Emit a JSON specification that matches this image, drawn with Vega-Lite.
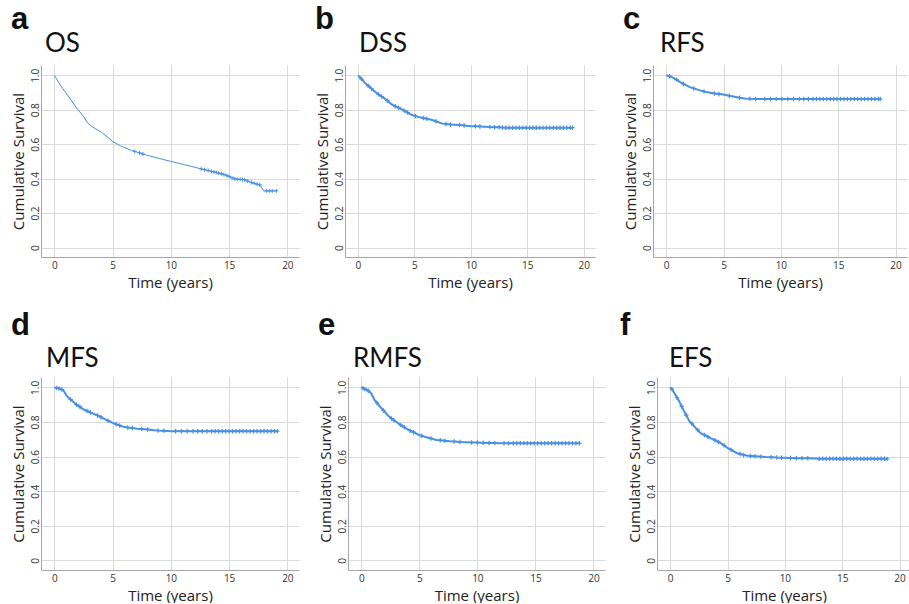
{
"$schema":"https://vega.github.io/schema/vega-lite/v6.json",
"padding":{"left":11,"top":4,"right":0,"bottom":0},
"background":"white",
"datasets":{"km":[
{"p":"OS","t":0,"s":1,"c":0},{"p":"OS","t":0.49,"s":0.945,"c":0},{"p":"OS","t":1.2,"s":0.878,"c":0},{"p":"OS","t":1.91,"s":0.81,"c":0},{"p":"OS","t":2.49,"s":0.762,"c":0},{"p":"OS","t":2.86,"s":0.723,"c":0},{"p":"OS","t":3.2,"s":0.703,"c":0},{"p":"OS","t":4.06,"s":0.669,"c":0},{"p":"OS","t":5.0,"s":0.616,"c":0},{"p":"OS","t":5.77,"s":0.587,"c":0},{"p":"OS","t":6.63,"s":0.564,"c":0},{"p":"OS","t":6.9,"s":0.558,"c":1},{"p":"OS","t":7.3,"s":0.55,"c":1},{"p":"OS","t":7.6,"s":0.543,"c":1},{"p":"OS","t":7.77,"s":0.539,"c":0},{"p":"OS","t":8.91,"s":0.519,"c":0},{"p":"OS","t":10,"s":0.5,"c":0},{"p":"OS","t":11.2,"s":0.481,"c":0},{"p":"OS","t":12.34,"s":0.461,"c":0},{"p":"OS","t":12.6,"s":0.457,"c":1},{"p":"OS","t":12.9,"s":0.452,"c":1},{"p":"OS","t":13.2,"s":0.447,"c":1},{"p":"OS","t":13.49,"s":0.442,"c":1},{"p":"OS","t":13.7,"s":0.439,"c":1},{"p":"OS","t":13.9,"s":0.436,"c":1},{"p":"OS","t":14.1,"s":0.432,"c":1},{"p":"OS","t":14.34,"s":0.428,"c":1},{"p":"OS","t":14.55,"s":0.424,"c":1},{"p":"OS","t":14.8,"s":0.418,"c":1},{"p":"OS","t":15,"s":0.413,"c":1},{"p":"OS","t":15.25,"s":0.405,"c":1},{"p":"OS","t":15.49,"s":0.399,"c":1},{"p":"OS","t":15.7,"s":0.397,"c":1},{"p":"OS","t":15.95,"s":0.396,"c":1},{"p":"OS","t":16.15,"s":0.395,"c":1},{"p":"OS","t":16.34,"s":0.393,"c":1},{"p":"OS","t":16.6,"s":0.386,"c":1},{"p":"OS","t":16.91,"s":0.378,"c":1},{"p":"OS","t":17.15,"s":0.373,"c":1},{"p":"OS","t":17.4,"s":0.368,"c":1},{"p":"OS","t":17.63,"s":0.364,"c":1},{"p":"OS","t":17.97,"s":0.329,"c":0},{"p":"OS","t":18.2,"s":0.329,"c":1},{"p":"OS","t":18.45,"s":0.329,"c":1},{"p":"OS","t":18.7,"s":0.329,"c":1},{"p":"OS","t":19.06,"s":0.329,"c":1},

{"p":"DSS","t":0,"s":1,"c":0},{"p":"DSS","t":0.3,"s":0.98,"c":1},{"p":"DSS","t":0.57,"s":0.959,"c":0},{"p":"DSS","t":0.9,"s":0.94,"c":1},{"p":"DSS","t":1.2,"s":0.922,"c":1},{"p":"DSS","t":1.46,"s":0.907,"c":0},{"p":"DSS","t":1.8,"s":0.89,"c":1},{"p":"DSS","t":2.1,"s":0.877,"c":1},{"p":"DSS","t":2.35,"s":0.866,"c":0},{"p":"DSS","t":2.6,"s":0.853,"c":1},{"p":"DSS","t":2.95,"s":0.833,"c":0},{"p":"DSS","t":3.3,"s":0.82,"c":1},{"p":"DSS","t":3.6,"s":0.812,"c":1},{"p":"DSS","t":3.84,"s":0.804,"c":0},{"p":"DSS","t":4.1,"s":0.795,"c":1},{"p":"DSS","t":4.4,"s":0.784,"c":1},{"p":"DSS","t":4.73,"s":0.771,"c":0},{"p":"DSS","t":5.1,"s":0.763,"c":1},{"p":"DSS","t":5.48,"s":0.756,"c":0},{"p":"DSS","t":5.8,"s":0.752,"c":1},{"p":"DSS","t":6.1,"s":0.748,"c":1},{"p":"DSS","t":6.5,"s":0.742,"c":0},{"p":"DSS","t":6.9,"s":0.733,"c":1},{"p":"DSS","t":7.4,"s":0.721,"c":0},{"p":"DSS","t":7.8,"s":0.718,"c":1},{"p":"DSS","t":8.2,"s":0.715,"c":1},{"p":"DSS","t":8.6,"s":0.713,"c":0},{"p":"DSS","t":9.0,"s":0.711,"c":1},{"p":"DSS","t":9.4,"s":0.709,"c":1},{"p":"DSS","t":10,"s":0.705,"c":0},{"p":"DSS","t":10.4,"s":0.704,"c":1},{"p":"DSS","t":10.8,"s":0.703,"c":1},{"p":"DSS","t":11.3,"s":0.702,"c":0},{"p":"DSS","t":11.7,"s":0.7,"c":1},{"p":"DSS","t":12.1,"s":0.699,"c":1},{"p":"DSS","t":12.5,"s":0.698,"c":1},{"p":"DSS","t":12.8,"s":0.697,"c":1},{"p":"DSS","t":13.1,"s":0.696,"c":1},{"p":"DSS","t":13.4,"s":0.696,"c":1},{"p":"DSS","t":13.7,"s":0.696,"c":1},{"p":"DSS","t":14.0,"s":0.696,"c":1},{"p":"DSS","t":14.3,"s":0.696,"c":1},{"p":"DSS","t":14.6,"s":0.696,"c":1},{"p":"DSS","t":14.9,"s":0.696,"c":1},{"p":"DSS","t":15.2,"s":0.696,"c":1},{"p":"DSS","t":15.5,"s":0.696,"c":1},{"p":"DSS","t":15.8,"s":0.696,"c":1},{"p":"DSS","t":16.1,"s":0.696,"c":1},{"p":"DSS","t":16.4,"s":0.696,"c":1},{"p":"DSS","t":16.7,"s":0.696,"c":1},{"p":"DSS","t":17.0,"s":0.696,"c":1},{"p":"DSS","t":17.3,"s":0.696,"c":1},{"p":"DSS","t":17.6,"s":0.696,"c":1},{"p":"DSS","t":17.9,"s":0.696,"c":1},{"p":"DSS","t":18.2,"s":0.696,"c":1},{"p":"DSS","t":18.5,"s":0.696,"c":1},{"p":"DSS","t":18.8,"s":0.696,"c":1},{"p":"DSS","t":19.0,"s":0.696,"c":1},

{"p":"RFS","t":0,"s":1,"c":0},{"p":"RFS","t":0.3,"s":0.995,"c":1},{"p":"RFS","t":0.62,"s":0.985,"c":0},{"p":"RFS","t":0.9,"s":0.975,"c":1},{"p":"RFS","t":1.18,"s":0.962,"c":0},{"p":"RFS","t":1.5,"s":0.95,"c":1},{"p":"RFS","t":2.03,"s":0.933,"c":0},{"p":"RFS","t":2.4,"s":0.924,"c":1},{"p":"RFS","t":2.88,"s":0.914,"c":0},{"p":"RFS","t":3.3,"s":0.906,"c":1},{"p":"RFS","t":3.72,"s":0.9,"c":0},{"p":"RFS","t":4.2,"s":0.895,"c":1},{"p":"RFS","t":4.6,"s":0.892,"c":1},{"p":"RFS","t":4.99,"s":0.889,"c":0},{"p":"RFS","t":5.5,"s":0.882,"c":1},{"p":"RFS","t":5.98,"s":0.876,"c":0},{"p":"RFS","t":6.4,"s":0.87,"c":1},{"p":"RFS","t":6.83,"s":0.866,"c":0},{"p":"RFS","t":7.3,"s":0.864,"c":1},{"p":"RFS","t":7.8,"s":0.863,"c":1},{"p":"RFS","t":8.24,"s":0.862,"c":0},{"p":"RFS","t":8.6,"s":0.862,"c":1},{"p":"RFS","t":9.1,"s":0.862,"c":1},{"p":"RFS","t":9.6,"s":0.862,"c":1},{"p":"RFS","t":10.1,"s":0.862,"c":1},{"p":"RFS","t":10.6,"s":0.862,"c":1},{"p":"RFS","t":11.1,"s":0.862,"c":1},{"p":"RFS","t":11.6,"s":0.862,"c":1},{"p":"RFS","t":12.0,"s":0.862,"c":1},{"p":"RFS","t":12.4,"s":0.862,"c":1},{"p":"RFS","t":12.8,"s":0.862,"c":1},{"p":"RFS","t":13.1,"s":0.862,"c":1},{"p":"RFS","t":13.4,"s":0.862,"c":1},{"p":"RFS","t":13.7,"s":0.862,"c":1},{"p":"RFS","t":14.0,"s":0.862,"c":1},{"p":"RFS","t":14.3,"s":0.862,"c":1},{"p":"RFS","t":14.6,"s":0.862,"c":1},{"p":"RFS","t":14.9,"s":0.862,"c":1},{"p":"RFS","t":15.2,"s":0.862,"c":1},{"p":"RFS","t":15.5,"s":0.862,"c":1},{"p":"RFS","t":15.8,"s":0.862,"c":1},{"p":"RFS","t":16.1,"s":0.862,"c":1},{"p":"RFS","t":16.4,"s":0.862,"c":1},{"p":"RFS","t":16.7,"s":0.862,"c":1},{"p":"RFS","t":17.0,"s":0.862,"c":1},{"p":"RFS","t":17.3,"s":0.862,"c":1},{"p":"RFS","t":17.6,"s":0.862,"c":1},{"p":"RFS","t":17.9,"s":0.862,"c":1},{"p":"RFS","t":18.2,"s":0.862,"c":1},{"p":"RFS","t":18.5,"s":0.862,"c":1},{"p":"RFS","t":18.67,"s":0.862,"c":1},

{"p":"MFS","t":0,"s":1,"c":0},{"p":"MFS","t":0.2,"s":0.997,"c":1},{"p":"MFS","t":0.4,"s":0.994,"c":1},{"p":"MFS","t":0.52,"s":0.992,"c":0},{"p":"MFS","t":0.65,"s":0.987,"c":1},{"p":"MFS","t":0.8,"s":0.98,"c":0},{"p":"MFS","t":1.09,"s":0.948,"c":0},{"p":"MFS","t":1.4,"s":0.93,"c":1},{"p":"MFS","t":1.66,"s":0.914,"c":0},{"p":"MFS","t":1.9,"s":0.9,"c":1},{"p":"MFS","t":2.2,"s":0.887,"c":1},{"p":"MFS","t":2.52,"s":0.872,"c":0},{"p":"MFS","t":2.8,"s":0.864,"c":1},{"p":"MFS","t":3.1,"s":0.855,"c":1},{"p":"MFS","t":3.38,"s":0.847,"c":0},{"p":"MFS","t":3.7,"s":0.838,"c":1},{"p":"MFS","t":4.0,"s":0.828,"c":1},{"p":"MFS","t":4.24,"s":0.82,"c":0},{"p":"MFS","t":4.6,"s":0.808,"c":1},{"p":"MFS","t":5.01,"s":0.795,"c":0},{"p":"MFS","t":5.3,"s":0.787,"c":1},{"p":"MFS","t":5.6,"s":0.78,"c":1},{"p":"MFS","t":5.96,"s":0.772,"c":0},{"p":"MFS","t":6.3,"s":0.768,"c":1},{"p":"MFS","t":6.7,"s":0.765,"c":1},{"p":"MFS","t":7.1,"s":0.761,"c":0},{"p":"MFS","t":7.5,"s":0.759,"c":1},{"p":"MFS","t":8.0,"s":0.757,"c":1},{"p":"MFS","t":8.54,"s":0.753,"c":0},{"p":"MFS","t":8.9,"s":0.751,"c":1},{"p":"MFS","t":9.4,"s":0.749,"c":1},{"p":"MFS","t":9.97,"s":0.747,"c":0},{"p":"MFS","t":10.4,"s":0.747,"c":1},{"p":"MFS","t":10.9,"s":0.747,"c":1},{"p":"MFS","t":11.4,"s":0.747,"c":1},{"p":"MFS","t":11.9,"s":0.747,"c":1},{"p":"MFS","t":12.3,"s":0.747,"c":1},{"p":"MFS","t":12.7,"s":0.747,"c":1},{"p":"MFS","t":13.1,"s":0.747,"c":1},{"p":"MFS","t":13.5,"s":0.747,"c":1},{"p":"MFS","t":13.8,"s":0.747,"c":1},{"p":"MFS","t":14.1,"s":0.747,"c":1},{"p":"MFS","t":14.4,"s":0.747,"c":1},{"p":"MFS","t":14.7,"s":0.747,"c":1},{"p":"MFS","t":15.0,"s":0.747,"c":1},{"p":"MFS","t":15.3,"s":0.747,"c":1},{"p":"MFS","t":15.6,"s":0.747,"c":1},{"p":"MFS","t":15.9,"s":0.747,"c":1},{"p":"MFS","t":16.2,"s":0.747,"c":1},{"p":"MFS","t":16.5,"s":0.747,"c":1},{"p":"MFS","t":16.8,"s":0.747,"c":1},{"p":"MFS","t":17.1,"s":0.747,"c":1},{"p":"MFS","t":17.4,"s":0.747,"c":1},{"p":"MFS","t":17.7,"s":0.747,"c":1},{"p":"MFS","t":18.0,"s":0.747,"c":1},{"p":"MFS","t":18.3,"s":0.747,"c":1},{"p":"MFS","t":18.6,"s":0.747,"c":1},{"p":"MFS","t":18.9,"s":0.747,"c":1},{"p":"MFS","t":19.14,"s":0.747,"c":1},

{"p":"RMFS","t":0,"s":1,"c":0},{"p":"RMFS","t":0.15,"s":0.995,"c":1},{"p":"RMFS","t":0.3,"s":0.99,"c":1},{"p":"RMFS","t":0.43,"s":0.988,"c":0},{"p":"RMFS","t":0.6,"s":0.98,"c":1},{"p":"RMFS","t":0.86,"s":0.965,"c":0},{"p":"RMFS","t":1.15,"s":0.926,"c":0},{"p":"RMFS","t":1.35,"s":0.91,"c":1},{"p":"RMFS","t":1.58,"s":0.891,"c":0},{"p":"RMFS","t":1.9,"s":0.867,"c":1},{"p":"RMFS","t":2.3,"s":0.838,"c":0},{"p":"RMFS","t":2.6,"s":0.82,"c":1},{"p":"RMFS","t":2.8,"s":0.81,"c":1},{"p":"RMFS","t":3.02,"s":0.8,"c":0},{"p":"RMFS","t":3.4,"s":0.782,"c":1},{"p":"RMFS","t":3.7,"s":0.77,"c":1},{"p":"RMFS","t":3.88,"s":0.761,"c":0},{"p":"RMFS","t":4.2,"s":0.75,"c":1},{"p":"RMFS","t":4.5,"s":0.741,"c":1},{"p":"RMFS","t":4.89,"s":0.728,"c":0},{"p":"RMFS","t":5.2,"s":0.72,"c":1},{"p":"RMFS","t":5.61,"s":0.712,"c":0},{"p":"RMFS","t":6.0,"s":0.705,"c":1},{"p":"RMFS","t":6.47,"s":0.696,"c":0},{"p":"RMFS","t":6.8,"s":0.694,"c":1},{"p":"RMFS","t":7.2,"s":0.692,"c":1},{"p":"RMFS","t":7.63,"s":0.689,"c":0},{"p":"RMFS","t":8.0,"s":0.688,"c":1},{"p":"RMFS","t":8.5,"s":0.685,"c":1},{"p":"RMFS","t":9.06,"s":0.683,"c":0},{"p":"RMFS","t":9.5,"s":0.682,"c":1},{"p":"RMFS","t":10.0,"s":0.681,"c":1},{"p":"RMFS","t":10.5,"s":0.68,"c":1},{"p":"RMFS","t":11.0,"s":0.679,"c":1},{"p":"RMFS","t":11.5,"s":0.678,"c":1},{"p":"RMFS","t":11.94,"s":0.677,"c":0},{"p":"RMFS","t":12.3,"s":0.677,"c":1},{"p":"RMFS","t":12.7,"s":0.677,"c":1},{"p":"RMFS","t":13.1,"s":0.677,"c":1},{"p":"RMFS","t":13.4,"s":0.677,"c":1},{"p":"RMFS","t":13.7,"s":0.677,"c":1},{"p":"RMFS","t":14.0,"s":0.677,"c":1},{"p":"RMFS","t":14.3,"s":0.677,"c":1},{"p":"RMFS","t":14.6,"s":0.677,"c":1},{"p":"RMFS","t":14.9,"s":0.677,"c":1},{"p":"RMFS","t":15.2,"s":0.677,"c":1},{"p":"RMFS","t":15.5,"s":0.677,"c":1},{"p":"RMFS","t":15.8,"s":0.677,"c":1},{"p":"RMFS","t":16.1,"s":0.677,"c":1},{"p":"RMFS","t":16.4,"s":0.677,"c":1},{"p":"RMFS","t":16.7,"s":0.677,"c":1},{"p":"RMFS","t":17.0,"s":0.677,"c":1},{"p":"RMFS","t":17.3,"s":0.677,"c":1},{"p":"RMFS","t":17.6,"s":0.677,"c":1},{"p":"RMFS","t":17.9,"s":0.677,"c":1},{"p":"RMFS","t":18.2,"s":0.677,"c":1},{"p":"RMFS","t":18.5,"s":0.677,"c":1},{"p":"RMFS","t":18.79,"s":0.677,"c":1},

{"p":"EFS","t":0,"s":1,"c":0},{"p":"EFS","t":0.15,"s":0.99,"c":1},{"p":"EFS","t":0.37,"s":0.966,"c":0},{"p":"EFS","t":0.6,"s":0.94,"c":1},{"p":"EFS","t":0.8,"s":0.918,"c":0},{"p":"EFS","t":1.0,"s":0.89,"c":1},{"p":"EFS","t":1.23,"s":0.86,"c":0},{"p":"EFS","t":1.4,"s":0.84,"c":1},{"p":"EFS","t":1.65,"s":0.807,"c":0},{"p":"EFS","t":1.9,"s":0.79,"c":1},{"p":"EFS","t":2.23,"s":0.765,"c":0},{"p":"EFS","t":2.4,"s":0.754,"c":1},{"p":"EFS","t":2.65,"s":0.736,"c":0},{"p":"EFS","t":3.0,"s":0.725,"c":1},{"p":"EFS","t":3.3,"s":0.714,"c":1},{"p":"EFS","t":3.51,"s":0.707,"c":0},{"p":"EFS","t":3.9,"s":0.695,"c":1},{"p":"EFS","t":4.2,"s":0.685,"c":1},{"p":"EFS","t":4.37,"s":0.679,"c":0},{"p":"EFS","t":4.7,"s":0.665,"c":1},{"p":"EFS","t":4.99,"s":0.65,"c":0},{"p":"EFS","t":5.3,"s":0.64,"c":1},{"p":"EFS","t":5.79,"s":0.621,"c":0},{"p":"EFS","t":6.1,"s":0.615,"c":1},{"p":"EFS","t":6.4,"s":0.61,"c":1},{"p":"EFS","t":6.65,"s":0.606,"c":0},{"p":"EFS","t":7.0,"s":0.604,"c":1},{"p":"EFS","t":7.4,"s":0.602,"c":1},{"p":"EFS","t":7.9,"s":0.6,"c":1},{"p":"EFS","t":8.36,"s":0.598,"c":0},{"p":"EFS","t":8.8,"s":0.597,"c":1},{"p":"EFS","t":9.3,"s":0.595,"c":1},{"p":"EFS","t":9.7,"s":0.594,"c":1},{"p":"EFS","t":10.07,"s":0.593,"c":0},{"p":"EFS","t":10.5,"s":0.592,"c":1},{"p":"EFS","t":11.0,"s":0.591,"c":1},{"p":"EFS","t":11.5,"s":0.59,"c":1},{"p":"EFS","t":12.0,"s":0.59,"c":1},{"p":"EFS","t":12.64,"s":0.589,"c":0},{"p":"EFS","t":13.0,"s":0.588,"c":1},{"p":"EFS","t":13.3,"s":0.588,"c":1},{"p":"EFS","t":13.6,"s":0.588,"c":1},{"p":"EFS","t":13.9,"s":0.588,"c":1},{"p":"EFS","t":14.2,"s":0.588,"c":1},{"p":"EFS","t":14.5,"s":0.588,"c":1},{"p":"EFS","t":14.8,"s":0.588,"c":1},{"p":"EFS","t":15.1,"s":0.588,"c":1},{"p":"EFS","t":15.4,"s":0.588,"c":1},{"p":"EFS","t":15.7,"s":0.588,"c":1},{"p":"EFS","t":16.0,"s":0.588,"c":1},{"p":"EFS","t":16.3,"s":0.588,"c":1},{"p":"EFS","t":16.6,"s":0.588,"c":1},{"p":"EFS","t":16.9,"s":0.588,"c":1},{"p":"EFS","t":17.2,"s":0.588,"c":1},{"p":"EFS","t":17.5,"s":0.588,"c":1},{"p":"EFS","t":17.8,"s":0.588,"c":1},{"p":"EFS","t":18.1,"s":0.588,"c":1},{"p":"EFS","t":18.4,"s":0.588,"c":1},{"p":"EFS","t":18.7,"s":0.588,"c":1},{"p":"EFS","t":18.92,"s":0.587,"c":1}
]},
"data":{"name":"km"},
"spacing":20,
"vconcat":[
 {"spacing":28,"hconcat":[
  {"spacing":16,"hconcat":[
   {"title":{"text":"a","font":"Liberation Sans","fontWeight":"bold","fontSize":31,"anchor":"start","frame":"bounds","offset":-5},
    "vconcat":[{"width":258,"height":192,"title":{"text":"OS","dx":4,"offset":8},
     "transform":[{"filter":"datum.p==='OS'"}],
     "encoding":{"x":{"field":"t","type":"quantitative","scale":{"domain":[-1.15,21],"nice":false,"zero":false},"axis":{"values":[0,5,10,15,20],"title":"Time (years)"}},
                 "y":{"field":"s","type":"quantitative","scale":{"domain":[-0.055,1.06],"nice":false,"zero":false},"axis":{"values":[0,0.2,0.4,0.6,0.8,1],"title":"Cumulative Survival","labelAngle":-90,"labelExpr":"datum.value==0?'0':format(datum.value,'.1f')"}}},
     "layer":[{"mark":{"type":"line","color":"#4a90e2","strokeWidth":1}},
              {"transform":[{"filter":"datum.c==1"}],"mark":{"type":"point","shape":"M-1,0H1M0,-1V1","filled":false,"size":16,"strokeWidth":1,"color":"#4a90e2","opacity":1}}]}]},
   {"title":{"text":"b","font":"Liberation Sans","fontWeight":"bold","fontSize":31,"anchor":"start","frame":"bounds","offset":-5},
    "vconcat":[{"width":250,"height":192,"title":{"text":"DSS","dx":14,"offset":8},
     "transform":[{"filter":"datum.p==='DSS'"}],
     "encoding":{"x":{"field":"t","type":"quantitative","scale":{"domain":[-1.15,21],"nice":false,"zero":false},"axis":{"values":[0,5,10,15,20],"title":"Time (years)"}},
                 "y":{"field":"s","type":"quantitative","scale":{"domain":[-0.055,1.06],"nice":false,"zero":false},"axis":{"values":[0,0.2,0.4,0.6,0.8,1],"title":"Cumulative Survival","labelAngle":-90,"labelExpr":"datum.value==0?'0':format(datum.value,'.1f')"}}},
     "layer":[{"mark":{"type":"line","color":"#4a90e2","strokeWidth":2}},
              {"transform":[{"filter":"datum.c==1"}],"mark":{"type":"point","shape":"M-1,0H1M0,-1V1","filled":false,"size":20,"strokeWidth":1.2,"color":"#4a90e2","opacity":1}}]}]}
  ]},
  {"title":{"text":"c","font":"Liberation Sans","fontWeight":"bold","fontSize":31,"anchor":"start","frame":"bounds","offset":-5},
   "vconcat":[{"width":254,"height":192,"title":{"text":"RFS","dx":7,"offset":8},
    "transform":[{"filter":"datum.p==='RFS'"}],
    "encoding":{"x":{"field":"t","type":"quantitative","scale":{"domain":[-1.15,21],"nice":false,"zero":false},"axis":{"values":[0,5,10,15,20],"title":"Time (years)"}},
                "y":{"field":"s","type":"quantitative","scale":{"domain":[-0.055,1.06],"nice":false,"zero":false},"axis":{"values":[0,0.2,0.4,0.6,0.8,1],"title":"Cumulative Survival","labelAngle":-90,"labelExpr":"datum.value==0?'0':format(datum.value,'.1f')"}}},
    "layer":[{"mark":{"type":"line","color":"#4a90e2","strokeWidth":2}},
             {"transform":[{"filter":"datum.c==1"}],"mark":{"type":"point","shape":"M-1,0H1M0,-1V1","filled":false,"size":20,"strokeWidth":1.2,"color":"#4a90e2","opacity":1}}]}]}
 ]},
 {"spacing":15,"hconcat":[
  {"spacing":19,"hconcat":[
  {"title":{"text":"d","font":"Liberation Sans","fontWeight":"bold","fontSize":31,"anchor":"start","frame":"bounds","offset":4},
   "vconcat":[{"width":258,"height":193,"title":{"text":"MFS","dx":5,"offset":5},
    "transform":[{"filter":"datum.p==='MFS'"}],
    "encoding":{"x":{"field":"t","type":"quantitative","scale":{"domain":[-1.15,21],"nice":false,"zero":false},"axis":{"values":[0,5,10,15,20],"title":"Time (years)"}},
                "y":{"field":"s","type":"quantitative","scale":{"domain":[-0.055,1.06],"nice":false,"zero":false},"axis":{"values":[0,0.2,0.4,0.6,0.8,1],"title":"Cumulative Survival","labelAngle":-90,"labelExpr":"datum.value==0?'0':format(datum.value,'.1f')"}}},
    "layer":[{"mark":{"type":"line","color":"#4a90e2","strokeWidth":2}},
             {"transform":[{"filter":"datum.c==1"}],"mark":{"type":"point","shape":"M-1,0H1M0,-1V1","filled":false,"size":20,"strokeWidth":1.2,"color":"#4a90e2","opacity":1}}]}]},
  {"title":{"text":"e","font":"Liberation Sans","fontWeight":"bold","fontSize":31,"anchor":"start","frame":"bounds","offset":4},
   "vconcat":[{"width":257,"height":193,"title":{"text":"RMFS","dx":5,"offset":5},
    "transform":[{"filter":"datum.p==='RMFS'"}],
    "encoding":{"x":{"field":"t","type":"quantitative","scale":{"domain":[-1.15,21],"nice":false,"zero":false},"axis":{"values":[0,5,10,15,20],"title":"Time (years)"}},
                "y":{"field":"s","type":"quantitative","scale":{"domain":[-0.055,1.06],"nice":false,"zero":false},"axis":{"values":[0,0.2,0.4,0.6,0.8,1],"title":"Cumulative Survival","labelAngle":-90,"labelExpr":"datum.value==0?'0':format(datum.value,'.1f')"}}},
    "layer":[{"mark":{"type":"line","color":"#4a90e2","strokeWidth":2}},
             {"transform":[{"filter":"datum.c==1"}],"mark":{"type":"point","shape":"M-1,0H1M0,-1V1","filled":false,"size":20,"strokeWidth":1.2,"color":"#4a90e2","opacity":1}}]}]}
  ]},
  {"title":{"text":"f","font":"Liberation Sans","fontWeight":"bold","fontSize":31,"anchor":"start","frame":"bounds","offset":4,"dx":-7},
   "vconcat":[{"width":254,"height":193,"title":{"text":"EFS","dx":12,"offset":5},
    "transform":[{"filter":"datum.p==='EFS'"}],
    "encoding":{"x":{"field":"t","type":"quantitative","scale":{"domain":[-1.15,21],"nice":false,"zero":false},"axis":{"values":[0,5,10,15,20],"title":"Time (years)"}},
                "y":{"field":"s","type":"quantitative","scale":{"domain":[-0.055,1.06],"nice":false,"zero":false},"axis":{"values":[0,0.2,0.4,0.6,0.8,1],"title":"Cumulative Survival","labelAngle":-90,"labelExpr":"datum.value==0?'0':format(datum.value,'.1f')"}}},
    "layer":[{"mark":{"type":"line","color":"#4a90e2","strokeWidth":2}},
             {"transform":[{"filter":"datum.c==1"}],"mark":{"type":"point","shape":"M-1,0H1M0,-1V1","filled":false,"size":20,"strokeWidth":1.2,"color":"#4a90e2","opacity":1}}]}]}
 ]}
],
"config":{
 "view":{"stroke":null},
 "axis":{"domainColor":"#a6a6a6","gridColor":"#dadada","ticks":false,"labelFont":"Open Sans","labelFontSize":10,"labelColor":"#333","titleFont":"Open Sans","titleFontSize":15,"titleFontWeight":"normal","titleColor":"#222","labelPadding":3},
 "axisX":{"titlePadding":5},
 "axisY":{"titlePadding":4,"labelPadding":1},
 "title":{"font":"Lato","fontSize":26,"fontWeight":"normal","anchor":"start","color":"#111","frame":"group"}
}
}
